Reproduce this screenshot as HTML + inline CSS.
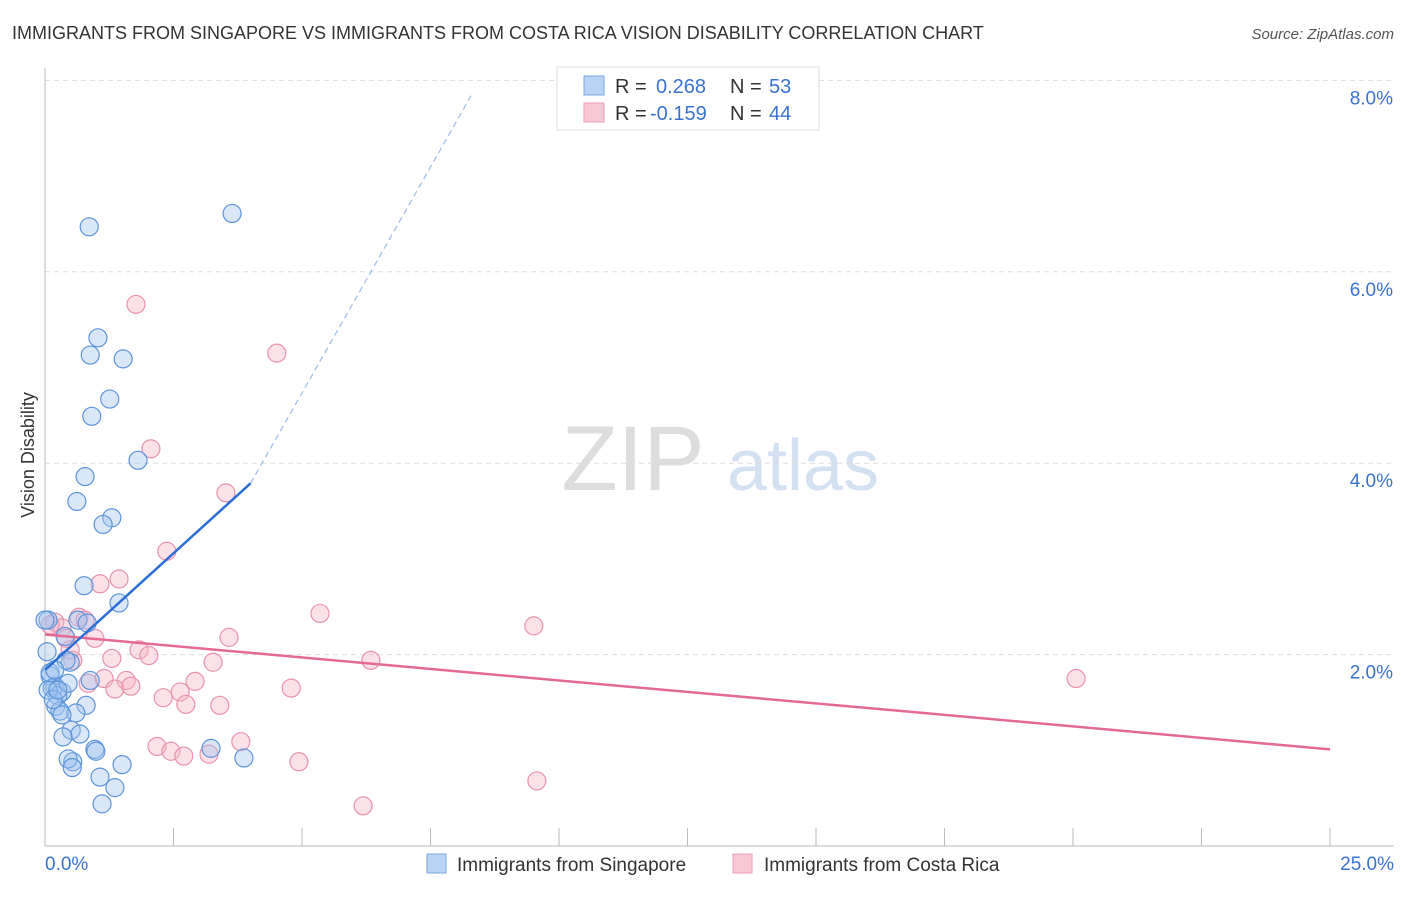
<!DOCTYPE html>
<html><head><meta charset="utf-8"><style>
body{margin:0;background:#fff;font-family:"Liberation Sans",sans-serif}
svg text{font-family:"Liberation Sans",sans-serif}
</style></head><body>
<svg id="c" width="1406" height="892" viewBox="0 0 1406 892">
<text x="12" y="39" font-size="18" fill="#333">IMMIGRANTS FROM SINGAPORE VS IMMIGRANTS FROM COSTA RICA VISION DISABILITY CORRELATION CHART</text>
<text x="1394" y="39" font-size="15" fill="#555" font-style="italic" text-anchor="end">Source: ZipAtlas.com</text>
<g><text x="633" y="490" font-size="92" fill="#ddd" font-family="Liberation Serif" text-anchor="middle">ZIP</text><text x="803" y="490" font-size="72" fill="#d3e1f3" text-anchor="middle">atlas</text></g>
<g id="grid"></g><g id="axes"></g><g id="marks"></g>
<text transform="translate(34,455) rotate(-90)" font-size="18" fill="#333" text-anchor="middle">Vision Disability</text>
<g>
<rect x="557" y="67" width="262" height="63" fill="#fff" stroke="#ddd"/>
<rect x="584" y="76" width="20" height="19" fill="#b9d3f5" stroke="#7aa7e0"/>
<rect x="584" y="103" width="20" height="19" fill="#f9c8d6" stroke="#ec9fb6"/>
<text x="615" y="93" font-size="20" fill="#333">R =</text><text x="656" y="93" font-size="20" fill="#3a73cf">0.268</text>
<text x="730" y="93" font-size="20" fill="#333">N =</text><text x="769" y="93" font-size="20" fill="#3a73cf">53</text>
<text x="615" y="120" font-size="20" fill="#333">R =</text><text x="650" y="120" font-size="20" fill="#3a73cf">-0.159</text>
<text x="730" y="120" font-size="20" fill="#333">N =</text><text x="769" y="120" font-size="20" fill="#3a73cf">44</text>
</g>
<g>
<rect x="427" y="854" width="19" height="19" fill="#b9d3f5" stroke="#7aa7e0"/>
<text x="457" y="871" font-size="19" fill="#333">Immigrants from Singapore</text>
<rect x="733" y="854" width="19" height="19" fill="#f9c8d6" stroke="#ec9fb6"/>
<text x="764" y="871" font-size="19" fill="#333">Immigrants from Costa Rica</text>
</g>
</svg>
<script>
const yTicks=[2,4,6,8];
const yTickLabels=["2.0%","4.0%","6.0%","8.0%"];
const xTickLabels=["0.0%","25.0%"];
const blueX=[.86,3.64,1.03,.88,1.52,1.26,.91,1.81,.78,.62,1.30,1.13,.76,1.44,.64,.82,.06,.39,.04,.49,.10,.19,.14,.33,.25,.45,.21,.80,.29,.60,.51,.68,.35,.97,.99,3.23,.54,.45,1.50,3.87,.53,1.07,1.36,1.11,.10,.06,.16,.88,.33,.41,.25,0,.19];
const blueY=[6.47,6.61,5.31,5.13,5.09,4.67,4.49,4.03,3.86,3.60,3.43,3.36,2.72,2.54,2.36,2.33,2.36,2.19,2.03,1.92,1.78,1.67,1.65,1.61,1.57,1.70,1.46,1.47,1.41,1.39,1.21,1.17,1.14,1.01,.99,1.02,.88,.91,.85,.92,.82,.72,.61,.44,1.81,1.63,1.53,1.73,1.37,1.94,1.63,2.36,1.84];
const pinkX=[1.77,4.51,2.06,3.52,2.37,1.44,1.07,5.35,9.51,.66,.78,.19,.33,.41,.97,3.58,1.83,2.02,1.30,.54,3.27,6.34,20.06,.84,1.15,1.58,1.36,1.67,2.92,4.79,2.63,2.30,2.74,3.40,2.18,2.45,2.70,3.19,3.81,4.94,9.57,6.19,.10,.49];
const pinkY=[5.66,5.15,4.15,3.69,3.08,2.79,2.74,2.43,2.30,2.39,2.36,2.34,2.28,2.17,2.17,2.18,2.05,1.99,1.96,1.94,1.92,1.94,1.75,1.70,1.75,1.73,1.64,1.67,1.72,1.65,1.61,1.55,1.48,1.47,1.04,.99,.94,.96,1.09,.88,.68,.42,2.31,2.05];
const blueTrend=[[0,1.84],[4.0,3.79],[8.3,7.85]];
const pinkTrend=[[0,2.21],[25,1.01]];
const NS="http://www.w3.org/2000/svg";
const sx=v=>45+v*51.4, sy=v=>846-v*95.7;
function mk(t,a,p){const e=document.createElementNS(NS,t);for(const k in a)e.setAttribute(k,a[k]);p.appendChild(e);return e;}
const grid=document.getElementById('grid'),axes=document.getElementById('axes'),marks=document.getElementById('marks');
yTicks.forEach((t,i)=>{
 const l=mk('line',{x1:45,x2:1394,y1:sy(t),y2:sy(t),stroke:'#ddd','stroke-dasharray':'5,4'},grid);
 
 
 const tx=mk('text',{x:1393,y:sy(t)+24,'font-size':19,fill:'#3a73cf','text-anchor':'end'},axes);
 tx.textContent=yTickLabels[i];
 
 
});
const ax=mk('line',{x1:45,x2:45,y1:68,y2:846,stroke:'#bbb'},axes);


const bx=mk('line',{x1:45,x2:1394,y1:846,y2:846,stroke:'#bbb'},axes);


for(let i=0;i<=10;i++){const t=mk('line',{x1:sx(i*2.5),x2:sx(i*2.5),y1:828,y2:846,stroke:'#bbb'},axes);
 
 }
[[0,'start',45],[25,'end',1394]].forEach((d,i)=>{const t=mk('text',{x:d[2],y:870,'font-size':19,fill:'#3a73cf','text-anchor':d[1]},axes);t.textContent=xTickLabels[i];
 
 });
function pts(X,Y,fill,stroke,name){X.forEach((x,i)=>{const c=mk('circle',{cx:sx(x),cy:sy(Y[i]),r:9,fill:fill,stroke:stroke,'stroke-width':1.2},marks);
 
 });}
pts(pinkX,pinkY,'rgba(248,180,200,0.4)','#e893ad','point-costa-rica');
pts(blueX,blueY,'rgba(160,196,240,0.4)','#5d95db','point-singapore');
const pl=mk('line',{x1:sx(pinkTrend[0][0]),y1:sy(pinkTrend[0][1]),x2:sx(pinkTrend[1][0]),y2:sy(pinkTrend[1][1]),stroke:'#e46a94','stroke-width':2.5},marks);


const bl=mk('line',{x1:sx(blueTrend[0][0]),y1:sy(blueTrend[0][1]),x2:sx(blueTrend[1][0]),y2:sy(blueTrend[1][1]),stroke:'#2a6fd6','stroke-width':2.5},marks);


const bd=mk('line',{x1:sx(blueTrend[1][0]),y1:sy(blueTrend[1][1]),x2:sx(blueTrend[2][0]),y2:sy(blueTrend[2][1]),stroke:'#9dbbe6','stroke-width':1.2,'stroke-dasharray':'6,4'},marks);


</script>
</body></html>
